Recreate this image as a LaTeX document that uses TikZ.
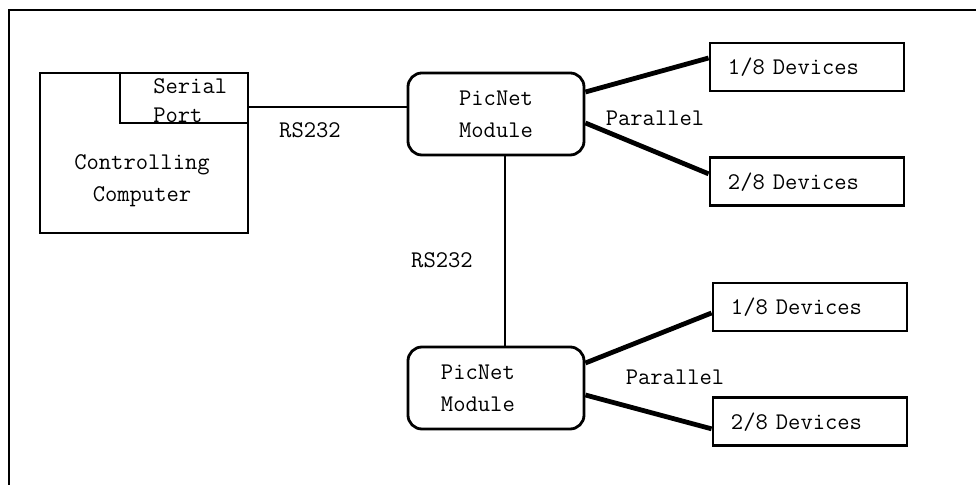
\documentclass[tikz,border=0pt]{standalone}
\usepackage{fontspec}
\usetikzlibrary{positioning}

\begin{document}
\begin{tikzpicture}[
    x=0.025cm, y=-0.025cm,
    every node/.style={font=\ttfamily\fontsize{17}{23}\selectfont},
    box/.style={draw, line width=2pt, inner sep=0pt},
    module/.style={draw, line width=2pt, rounded corners=0.35cm, minimum width=4.4cm, minimum height=2.05cm, inner sep=0pt, align=center},
    device/.style={draw, line width=2pt, minimum width=4.85cm, minimum height=1.2cm, text width=3.95cm, inner xsep=0.45cm, inner ysep=0pt, align=left},
    serial/.style={line width=1.4pt},
    parallel/.style={line width=3.4pt},
    label text/.style={inner sep=0pt}
]
\useasboundingbox (0,0) rectangle (976,485);

% frame
\draw[line width=2pt] (976,10) -- (9,10) -- (9,485);

% controlling computer with its serial port
\node[box, minimum width=5.2cm, minimum height=4cm] (comp) at (144,153) {};
\node[box, minimum width=3.2cm, minimum height=1.25cm, anchor=north east] (port) at (comp.north east) {};
\node[label text, anchor=west, align=left, font=\ttfamily\fontsize{17}{20.6}\selectfont] (porttext) at (153,101) {Serial\\Port};
\node[label text, align=center, font=\ttfamily\fontsize{17}{22.8}\selectfont] (comptext) at (142,181) {Controlling\\Computer};

% PicNet modules
\node[module] (mod1) at (496,114) {PicNet\\Module};
\node[module, text width=2.75cm, inner xsep=0.825cm, align=left] (mod2) at (496,388) {PicNet\\Module};

% devices
\node[device] (dev1a) at (807,67) {1/8 Devices};
\node[device, below=1.6cm of dev1a.south, anchor=north] (dev1b) {2/8 Devices};
\node[device] (dev2a) at (810,307) {1/8 Devices};
\node[device, below=1.6cm of dev2a.south, anchor=north] (dev2b) {2/8 Devices};

% serial links
\draw[serial] ([yshift=-0.225cm]port.east) -- ([yshift=-0.225cm]port.east -| mod1.west);
\draw[serial] ([xshift=0.225cm]mod1.south) -- ([xshift=0.225cm]mod2.north);
\node[label text] (rs1) at (310,130) {RS232};
\node[label text] (rs2) at (442,260) {RS232};

% parallel links
\draw[parallel] ([yshift=0.55cm]mod1.east) -- ([yshift=0.225cm]dev1a.west);
\draw[parallel] ([yshift=-0.225cm]mod1.east) -- ([yshift=0.2cm]dev1b.west);
\draw[parallel] ([yshift=0.625cm]mod2.east) -- ([yshift=-0.15cm]dev2a.west);
\draw[parallel] ([yshift=-0.175cm]mod2.east) -- ([yshift=-0.175cm]dev2b.west);
\node[label text] (par1) at (655,118) {Parallel};
\node[label text] (par2) at (675,377) {Parallel};

\end{tikzpicture}
\end{document}
